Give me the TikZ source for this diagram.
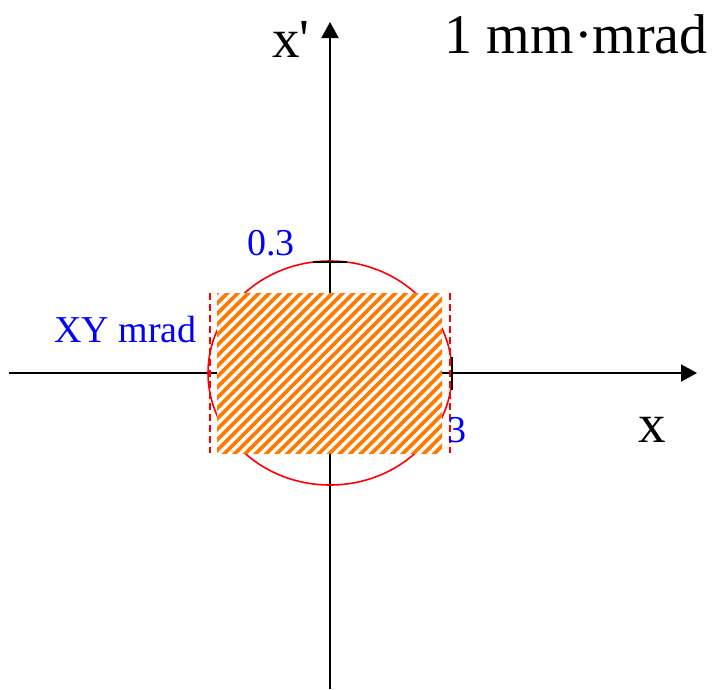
\documentclass[tikz,border=0pt]{standalone}
\usepackage{fontspec}
\setmainfont{Liberation Serif}
\usetikzlibrary{arrows.meta}
\definecolor{hatchorange}{RGB}{255,122,0}
\begin{document}
\begin{tikzpicture}[x=1pt,y=-1pt,
  axis/.style={line width=2pt,-{Triangle[length=16pt,width=17pt]}},
  tick/.style={line width=2pt},
  bluelabel/.style={text=blue,inner sep=0pt,font=\fontsize{38}{40}\selectfont},
  biglabel/.style={text=black,inner sep=0pt,font=\fontsize{55}{60}\selectfont},
  dashedred/.style={red,line width=1.6pt,dash pattern=on 7pt off 4pt}]
\useasboundingbox (0,0) rectangle (712,689);
% axes
\coordinate (xs) at (9,373);
\coordinate (xe) at (697,373);
\coordinate (ys) at (330,689);
\coordinate (ye) at (330,22);
\draw[axis] (xs) -- (xe);
\draw[axis] (ys) -- (ye);
% ellipse
\coordinate (c) at (330,373);
\draw[red,line width=1.6pt] (c) ellipse [x radius=122, y radius=112];
% ticks
\draw[tick] (313,262) -- (347,262);
\draw[tick] (452,357) -- (452,390);
% hatched rectangle (opaque, on top)
\fill[white] (217,293) rectangle (442,453);
\begin{scope}
  \clip (217,293) rectangle (442,453);
  \foreach \a in {47,57.5,...,460}
    \draw[hatchorange,line width=3.8pt] (\a,463) -- (\a+180,283);
\end{scope}
% dashed boundaries
\draw[dashedred] (210,293) -- (210,453);
\draw[dashedred] (450,293) -- (450,453);
% labels
\node[bluelabel,anchor=base west] (l03) at (247,255) {0.3};
\node[bluelabel,anchor=base east] (lxy) at (197,342) {XY mrad};
\node[bluelabel,anchor=base west] (l3) at (447,442) {3};
\node[biglabel,anchor=base west] (lx) at (638,442) {x};
\node[biglabel,anchor=base west] (lxp) at (272,57) {x\textquotesingle};
\node[biglabel,anchor=base east,font=\fontsize{56}{60}\selectfont] (lemit) at (708,53) {1 mm·mrad};
\end{tikzpicture}
\end{document}
